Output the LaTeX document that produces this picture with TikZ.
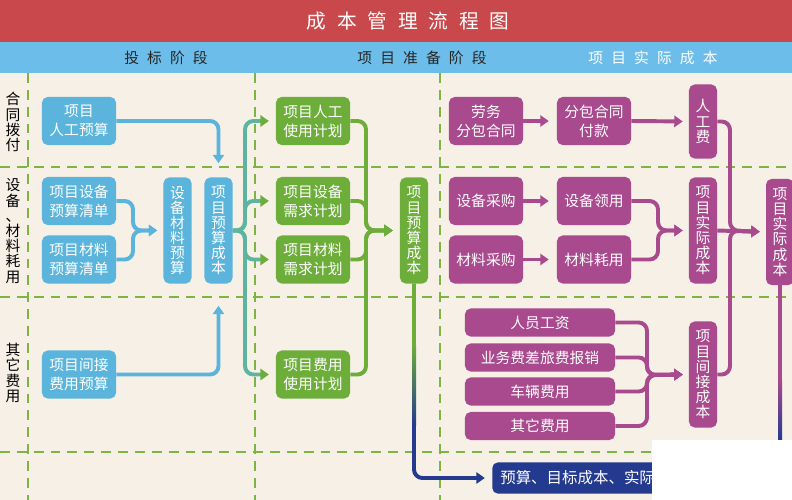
\documentclass[tikz,border=0pt]{standalone}
\usepackage{fontspec}
\newfontfamily\cjk{Noto Sans CJK SC}
\newfontfamily\cjkwide[LetterSpace=55]{Noto Sans CJK SC}
\usetikzlibrary{arrows.meta}

\definecolor{titlered}{HTML}{C9484B}
\definecolor{headblue}{HTML}{6CBDE9}
\definecolor{paper}{HTML}{F7F0E7}
\definecolor{gridgreen}{HTML}{7DB544}
\definecolor{boxblue}{HTML}{5AB4DB}
\definecolor{boxgreen}{HTML}{6DAE3B}
\definecolor{lineteal}{HTML}{5DB5A0}
\definecolor{boxplum}{HTML}{A84A8D}
\definecolor{boxnavy}{HTML}{233A8E}

\tikzset{
  box/.style={rounded corners=4pt, text=white, align=center, inner sep=0pt,
    font=\cjk\fontsize{10.5}{13.5}\selectfont, minimum width=1.85cm, minimum height=1.2cm},
  tallbox/.style={box, minimum width=0.7cm, minimum height=2.65cm,
    font=\cjk\fontsize{10.5}{10.8}\selectfont},
  listbox/.style={box, fill=boxplum, minimum width=3.75cm, minimum height=0.7cm},
  rowlabel/.style={font=\cjk\fontsize{10.5}{10.8}\selectfont, align=center, inner sep=0pt},
  gridline/.style={draw=gridgreen, line width=1.3pt, dash pattern=on 7pt off 5pt},
  flow/.style={line width=2.8pt, rounded corners=6pt, -{Triangle[length=6pt,width=8pt]}},
  tealflow/.style={flow, draw=lineteal, -{Triangle[length=6pt,width=8pt,color=boxgreen]}}
}

\begin{document}
\begin{tikzpicture}[x=0.025cm, y=-0.025cm]
\useasboundingbox (0,0) rectangle (792,500);
\fill[paper] (0,0) rectangle (792,500);
% 标题栏
\fill[titlered] (0,0) rectangle (792,42);
\fill[headblue] (0,42) rectangle (792,73);
\node[font=\cjkwide\fontsize{14}{16}\selectfont, text=white] (title) at (408,21) {成本管理流程图};
\node[font=\cjkwide\fontsize{10.5}{12}\selectfont, text=black!85] (hdrBid) at (166,58) {投标阶段};
\node[font=\cjkwide\fontsize{10.5}{12}\selectfont, text=black!85] (hdrPrep) at (422,58) {项目准备阶段};
\node[font=\cjkwide\fontsize{10.5}{12}\selectfont, text=white] (hdrAct) at (653,58) {项目实际成本};
% 虚线分隔
\draw[gridline] (28,73) -- (28,500);
\draw[gridline] (255,73) -- (255,500);
\draw[gridline] (440,73) -- (440,500);
\draw[gridline] (0,167) -- (792,167);
\draw[gridline] (0,297) -- (792,297);
\draw[gridline] (0,452) -- (792,452);
% 行标题
\node[rowlabel] (rowLab) at (13,122) {合\\同\\拨\\付};
\node[rowlabel] (rowMat) at (13,231) {设\\备\\、\\材\\料\\耗\\用};
\node[rowlabel] (rowFee) at (13,373) {其\\它\\费\\用};
% 投标阶段
\node[box, fill=boxblue] (labBud) at (79,121) {项目\\人工预算};
\node[box, fill=boxblue] (equBud) at (79,201) {项目设备\\预算清单};
\node[box, fill=boxblue] (matBud) at (79,259.5) {项目材料\\预算清单};
\node[tallbox, fill=boxblue] (emBud) at (177.5,230.5) {设\\备\\材\\料\\预\\算};
\node[tallbox, fill=boxblue] (costBud) at (218.5,230.5) {项\\目\\预\\算\\成\\本};
\node[box, fill=boxblue] (indBud) at (79,374.5) {项目间接\\费用预算};
% 项目准备阶段
\node[box, fill=boxgreen] (labPlan) at (313,121) {项目人工\\使用计划};
\node[box, fill=boxgreen] (equPlan) at (313,201) {项目设备\\需求计划};
\node[box, fill=boxgreen] (matPlan) at (313,259.5) {项目材料\\需求计划};
\node[box, fill=boxgreen] (feePlan) at (313,374.5) {项目费用\\使用计划};
\node[tallbox, fill=boxgreen] (costPlan) at (414,230.5) {项\\目\\预\\算\\成\\本};
% 项目实际成本
\node[box, fill=boxplum] (subCon) at (486,121) {劳务\\分包合同};
\node[box, fill=boxplum] (subPay) at (594,121) {分包合同\\付款};
\node[tallbox, fill=boxplum, minimum height=1.85cm] (labFee) at (703,121.5) {人\\工\\费};
\node[box, fill=boxplum] (equBuy) at (486,201) {设备采购};
\node[box, fill=boxplum] (equUse) at (594,201) {设备领用};
\node[box, fill=boxplum] (matBuy) at (486,259.5) {材料采购};
\node[box, fill=boxplum] (matUse) at (594,259.5) {材料耗用};
\node[tallbox, fill=boxplum] (actCost) at (703,230.5) {项\\目\\实\\际\\成\\本};
\node[tallbox, fill=boxplum] (actTotal) at (780,232) {项\\目\\实\\际\\成\\本};
\node[listbox] (wage) at (540,322.5) {人员工资};
\node[listbox] (travel) at (540,357.5) {业务费差旅费报销};
\node[listbox] (car) at (540,391.5) {车辆费用};
\node[listbox] (other) at (540,426) {其它费用};
\node[tallbox, fill=boxplum] (indCost) at (703,374.5) {项\\目\\间\\接\\成\\本};
\node[box, fill=boxnavy, anchor=west, minimum width=5.2cm, minimum height=0.78cm,
  text width=4.8cm, align=left, font=\cjk\fontsize{11}{13}\selectfont] (summary) at (492,478) {预算、目标成本、实际};
% 汇合点
\coordinate (jBud) at (133,230.5);
\coordinate (jPlan) at (245,230.5);
\coordinate (jGreen) at (366,230.5);
\coordinate (jUse) at (658,230.5);
\coordinate (jInd) at (647,375);
\coordinate (jAct) at (730,230.5);
% 蓝色连线
\draw[flow, draw=boxblue, shorten >=0.35cm] (labBud.east) -| (costBud.north);
\draw[flow, draw=boxblue, shorten >=0.55cm] (indBud.east) -| (costBud.south);
\draw[flow, draw=boxblue, shorten >=0.15cm] (equBud.east) -| (jBud) -- (emBud.west);
\draw[flow, draw=boxblue, shorten >=0.15cm] (matBud.east) -| (jBud) -- (emBud.west);
% 预算成本分配
\draw[tealflow, shorten >=0.17cm] (costBud.east) -- (jPlan) |- (labPlan.west);
\draw[tealflow, shorten >=0.17cm] (costBud.east) -- (jPlan) |- (equPlan.west);
\draw[tealflow, shorten >=0.17cm] (costBud.east) -- (jPlan) |- (matPlan.west);
\draw[tealflow, shorten >=0.17cm] (costBud.east) -- (jPlan) |- (feePlan.west);
% 绿色连线
\draw[flow, draw=boxgreen, shorten >=0.175cm] (labPlan.east) -| (jGreen) -- (costPlan.west);
\draw[flow, draw=boxgreen, shorten >=0.175cm] (equPlan.east) -| (jGreen) -- (costPlan.west);
\draw[flow, draw=boxgreen, shorten >=0.175cm] (matPlan.east) -| (jGreen) -- (costPlan.west);
\draw[flow, draw=boxgreen, shorten >=0.175cm] (feePlan.east) -| (jGreen) -- (costPlan.west);
\draw[flow, draw=boxnavy, shorten >=0.18cm] (costPlan.south) |- (summary.west);
\fill[boxgreen] (412,284) rectangle (416,345);
\shade[top color=boxgreen, bottom color=boxnavy] (412,345) rectangle (416,425);
% 紫色连线
\draw[flow, draw=boxplum, shorten >=0.2cm] (subCon.east) -- (subPay.west);
\draw[flow, draw=boxplum, shorten >=0.15cm] (subPay.east) -- (labFee.west);
\draw[flow, draw=boxplum, shorten >=0.2cm] (equBuy.east) -- (equUse.west);
\draw[flow, draw=boxplum, shorten >=0.2cm] (matBuy.east) -- (matUse.west);
\draw[flow, draw=boxplum, shorten >=0.15cm] (equUse.east) -| (jUse) -- (actCost.west);
\draw[flow, draw=boxplum, shorten >=0.15cm] (matUse.east) -| (jUse) -- (actCost.west);
\draw[flow, draw=boxplum, shorten >=0.15cm] (wage.east) -| (jInd) -- (indCost.west);
\draw[flow, draw=boxplum, shorten >=0.15cm] (travel.east) -| (jInd) -- (indCost.west);
\draw[flow, draw=boxplum, shorten >=0.15cm] (car.east) -| (jInd) -- (indCost.west);
\draw[flow, draw=boxplum, shorten >=0.15cm] (other.east) -| (jInd) -- (indCost.west);
\draw[flow, draw=boxplum, shorten >=0.15cm] (labFee.east) -| (jAct) -- (actTotal.west);
\draw[flow, draw=boxplum, shorten >=0.15cm] (indCost.east) -| (jAct) -- (actTotal.west);
\draw[flow, draw=boxplum, shorten >=0.15cm] (actCost.east) -- (actTotal.west);
\draw[line width=2.8pt, rounded corners=6pt, draw=boxnavy] (actTotal.south) |- (summary.east);
\fill[boxplum] (778,285) rectangle (782,380);
\shade[top color=boxplum, bottom color=boxnavy] (778,380) rectangle (782,440);
% 遮挡
\fill[white] (652,440) rectangle (792,500);
\end{tikzpicture}
\end{document}
